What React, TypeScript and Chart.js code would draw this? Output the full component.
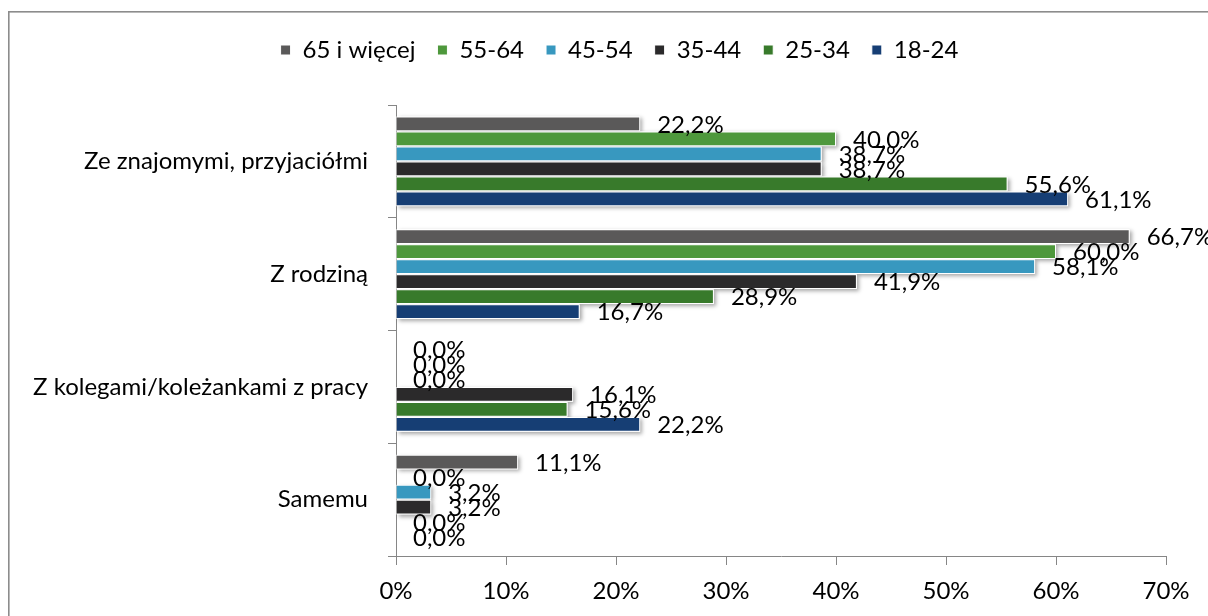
import React, { useEffect, useRef } from 'react';
import { Chart, registerables } from 'chart.js';

Chart.register(...registerables);

const categories = [
  'Ze znajomymi, przyjaciółmi',
  'Z rodziną',
  'Z kolegami/koleżankami z pracy',
  'Samemu',
];
const seriesNames = ['65 i więcej', '55-64', '45-54', '35-44', '25-34', '18-24'];
const seriesColors = ['#5a5959', '#4e983c', '#3898bf', '#2b2a2b', '#387a2b', '#163e74'];
const values65plus = [22.2, 66.7, 0.0, 11.1];
const values55to64 = [40.0, 60.0, 0.0, 0.0];
const values45to54 = [38.7, 58.1, 0.0, 3.2];
const values35to44 = [38.7, 41.9, 16.1, 3.2];
const values25to34 = [55.6, 28.9, 15.6, 0.0];
const values18to24 = [61.1, 16.7, 22.2, 0.0];
const seriesValues = [values65plus, values55to64, values45to54, values35to44, values25to34, values18to24];
const xTickValues = [0, 10, 20, 30, 40, 50, 60, 70];

const FONT_FAMILY = 'Lato';
const FONT_SIZE = 24;
const AXIS_COLOR = '#868686';
const TOP_PAD = 16;
const PLOT_TOP = 105;

const fmtPct = (v: number) => v.toFixed(1).replace('.', ',') + '%';

const legendPlacement = {
  id: 'legendPlacement',
  afterInit(chart: any) {
    const leg = chart.legend;
    if (!leg) return;
    const orig = leg.fit;
    leg.fit = function () {
      orig.call(this);
      this.height = PLOT_TOP - TOP_PAD;
    };
  },
  afterLayout(chart: any) {
    const leg = chart.legend;
    if (!leg) return;
    leg.left = 31;
    leg.right = chart.width;
    leg.width = leg.right - leg.left;
  },
};

const framePlugin = {
  id: 'frame',
  beforeDraw(chart: any) {
    const ctx = chart.ctx;
    ctx.save();
    ctx.fillStyle = '#8c8c8c';
    ctx.fillRect(8, 11, 1.6, chart.height);
    ctx.fillRect(8, 11, chart.width, 1.6);
    ctx.restore();
  },
};

const barDecor = {
  id: 'barDecor',
  beforeDatasetsDraw(chart: any) {
    const ctx = chart.ctx;
    ctx.save();
    ctx.shadowColor = 'rgba(0,0,0,0.35)';
    ctx.shadowBlur = 4;
    ctx.shadowOffsetX = 2;
    ctx.shadowOffsetY = 2;
    ctx.fillStyle = '#ffffff';
    chart.data.datasets.forEach((_ds: any, di: number) => {
      const meta = chart.getDatasetMeta(di);
      meta.data.forEach((bar: any) => {
        const { x, y, base, height } = bar.getProps(['x', 'y', 'base', 'height'], true);
        const w = x - base;
        if (w < 0.5) return;
        ctx.fillRect(base, y - height / 2, w, height);
      });
    });
    ctx.restore();
  },
  afterDatasetsDraw(chart: any) {
    const ctx = chart.ctx;
    ctx.save();
    ctx.font = `${FONT_SIZE}px ${FONT_FAMILY}`;
    ctx.fillStyle = '#000000';
    ctx.textAlign = 'left';
    ctx.textBaseline = 'middle';
    chart.data.datasets.forEach((ds: any, di: number) => {
      const meta = chart.getDatasetMeta(di);
      meta.data.forEach((bar: any, i: number) => {
        const { x, y } = bar.getProps(['x', 'y'], true);
        ctx.fillText(fmtPct(ds.data[i]), x + 17, y + 1);
      });
    });
    ctx.restore();
  },
};

export default function App() {
  const ref = useRef<HTMLCanvasElement>(null);

  useEffect(() => {
    const canvas = ref.current;
    if (!canvas) return;
    const font = { family: FONT_FAMILY, size: FONT_SIZE };
    const datasets = seriesValues.map((vals, i) => ({
      label: seriesNames[i],
      data: vals,
      backgroundColor: seriesColors[i],
      borderColor: '#ffffff',
      borderWidth: 1,
      borderSkipped: 'start' as const,
      barPercentage: 0.98,
      categoryPercentage: 0.8,
    }));
    const chart = new Chart(canvas, {
      type: 'bar',
      data: { labels: categories, datasets },
      options: {
        indexAxis: 'y',
        responsive: false,
        animation: false,
        devicePixelRatio: 1,
        layout: { padding: { left: 31, right: 42, top: TOP_PAD, bottom: 0 } },
        plugins: {
          legend: {
            position: 'top',
            labels: {
              boxWidth: 10,
              boxHeight: 10,
              padding: 22,
              color: '#000000',
              font,
            },
          },
          tooltip: { enabled: false },
        },
        scales: {
          x: {
            type: 'linear',
            min: 0,
            max: 70,
            afterBuildTicks: (s: any) => {
              s.ticks = xTickValues.map((v) => ({ value: v }));
            },
            ticks: {
              callback: (v: any) => `${v}%`,
              color: '#000000',
              font,
              padding: 12,
              maxRotation: 0,
              autoSkip: false,
            },
            grid: { drawOnChartArea: false, drawTicks: true, tickLength: 9, color: AXIS_COLOR },
            border: { color: AXIS_COLOR, width: 1 },
            afterFit: (s: any) => {
              s.height = 60;
            },
          },
          y: {
            type: 'category',
            ticks: { color: '#000000', font, padding: 20, autoSkip: false },
            grid: { drawOnChartArea: false, tickLength: 8, color: AXIS_COLOR, offset: true },
            border: { color: AXIS_COLOR, width: 1 },
            afterFit: (s: any) => {
              s.width = 365;
            },
          },
        },
      } as any,
      plugins: [legendPlacement, framePlugin, barDecor],
    });
    return () => chart.destroy();
  }, []);

  return (
    <div
      style={{
        position: 'fixed',
        left: 0,
        top: 0,
        width: 1208,
        height: 616,
        overflow: 'hidden',
        background: '#ffffff',
      }}
    >
      <canvas ref={ref} width={1208} height={616} style={{ display: 'block' }} />
    </div>
  );
}
